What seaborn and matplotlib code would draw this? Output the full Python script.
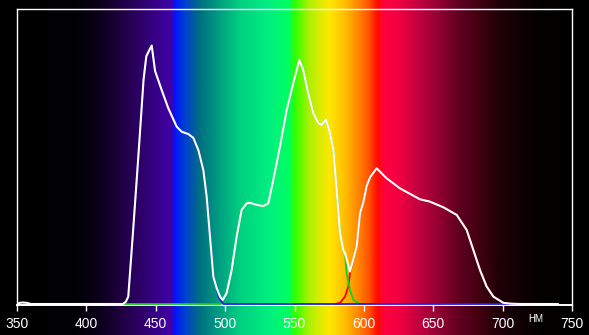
import numpy as np
import pandas as pd
import matplotlib
matplotlib.use("Agg")
import matplotlib.pyplot as plt
import seaborn as sns
from matplotlib.colors import LinearSegmentedColormap

# ---------------- data ----------------
white_wl = [350, 352, 354, 357, 360, 400, 426.4, 428.5, 430.2, 434.0, 437.6, 441.2, 443.2,
            445.5, 447.1, 449.5, 454.3, 459.0, 465.1, 468.7, 473.5, 477.1, 480.7, 484.3,
            486.7, 489.1, 491.5, 493.9, 496.3, 498.3, 501.1, 504.7, 508.3, 511.9, 515.5,
            517.9, 522.8, 527.5, 531.1, 534.7, 539.5, 544.4, 549.1, 553.5, 556.3, 559.9,
            563.6, 567.2, 569.6, 572.7, 575.6, 578.0, 580.4, 582.8, 585.2, 586.4, 590.0,
            594.8, 597.2, 599.6, 602.0, 604.5, 609.2, 616.4, 626.0, 640.4, 647.6, 657.2,
            666.9, 674.1, 678.9, 683.7, 688.5, 693.3, 700.5, 706.0, 712.5, 740]
white_val = [0, 0.004, 0.005, 0.004, 0, 0, 0, 0.008, 0.025, 0.27, 0.51, 0.76, 0.84,
             0.862, 0.876, 0.79, 0.725, 0.664, 0.601, 0.584, 0.576, 0.563, 0.522, 0.454,
             0.364, 0.228, 0.093, 0.054, 0.025, 0.014, 0.037, 0.115, 0.228, 0.319, 0.341,
             0.343, 0.336, 0.332, 0.341, 0.420, 0.533, 0.658, 0.748, 0.827, 0.793, 0.714,
             0.646, 0.613, 0.607, 0.626, 0.579, 0.522, 0.386, 0.240, 0.183, 0.172, 0.110,
             0.194, 0.307, 0.345, 0.400, 0.430, 0.460, 0.426, 0.392, 0.355, 0.347, 0.328,
             0.302, 0.251, 0.183, 0.115, 0.059, 0.025, 0.004, 0.001, 0, 0]

blue_wl = [426.4, 428.5, 430.2, 434.0, 437.6, 441.2, 443.2, 445.5, 447.1, 449.5, 454.3,
           459.0, 465.1, 468.7, 473.5, 477.1, 480.7, 484.3, 486.7, 489.1, 491.5, 493.9,
           495.1, 498.7, 714]
blue_val = [0, 0.008, 0.025, 0.27, 0.51, 0.76, 0.84, 0.862, 0.876, 0.79, 0.725,
            0.664, 0.601, 0.584, 0.576, 0.563, 0.522, 0.454, 0.364, 0.228, 0.093, 0.054,
            0.025, 0, 0]

green_wl = [426.4, 497.0, 498.3, 501.1, 504.7, 508.3, 511.9, 515.5, 517.9, 522.8, 527.5,
            531.1, 534.7, 539.5, 544.4, 549.1, 553.5, 556.3, 559.9, 563.6, 567.2, 569.6,
            572.7, 575.6, 578.0, 580.4, 582.8, 585.2, 586.4, 587.6, 590.0, 592.4, 597.2]
green_val = [0, 0, 0.014, 0.037, 0.115, 0.228, 0.319, 0.341, 0.343, 0.336, 0.332,
             0.341, 0.420, 0.533, 0.658, 0.748, 0.827, 0.793, 0.714, 0.646, 0.613, 0.607,
             0.626, 0.579, 0.522, 0.386, 0.240, 0.183, 0.172, 0.104, 0.047, 0.014, 0]

red_wl = [579.5, 583.0, 586.4, 588.8, 590.0, 594.8, 597.2, 599.6, 602.0, 604.5, 609.2,
          616.4, 626.0, 640.4, 647.6, 657.2, 666.9, 674.1, 678.9, 683.7, 688.5, 693.3,
          700.5, 706.0, 712.5]
red_val = [0, 0.005, 0.025, 0.059, 0.104, 0.194, 0.307, 0.345, 0.400, 0.430, 0.460,
           0.426, 0.392, 0.355, 0.347, 0.328, 0.302, 0.251, 0.183, 0.115, 0.059, 0.025,
           0.004, 0.001, 0]

x_ticks = [350, 400, 450, 500, 550, 600, 650, 700, 750]
unit_label = "НМ"

# ---------------- styling ----------------
sns.set_style("dark")
plt.rcParams["font.family"] = ["Liberation Sans", "DejaVu Sans"]

spectrum_stops = [
    (350, "#000000"), (392, "#020004"), (410, "#0c001c"), (424, "#1e003e"),
    (439, "#2e0068"), (453, "#3a0090"), (461.5, "#4200a8"), (463.5, "#0014ff"),
    (471, "#0040d0"), (482, "#007080"), (496, "#00a080"), (511, "#00d080"),
    (532, "#00f080"), (546, "#00ff60"), (550.5, "#30ff00"), (561, "#b0f000"),
    (575, "#ffe800"), (586, "#ffc000"), (597, "#ff8000"), (604, "#ff5000"),
    (610, "#ff0a00"), (615, "#ff0040"), (626, "#f00040"), (640, "#c00040"),
    (655, "#900030"), (669, "#600020"), (684, "#400010"), (698, "#200008"),
    (712, "#100004"), (727, "#050000"), (750, "#000000"),
]
cmap = LinearSegmentedColormap.from_list(
    "spectrum", [((w - 350) / 400, c) for w, c in spectrum_stops], N=1024)

W, H = 589, 335
fig = plt.figure(figsize=(W / 100, H / 100), dpi=100, facecolor="black")
ax = fig.add_axes([17 / W, 30 / H, 555 / W, 296 / H])
ax.set_facecolor("black")

lo, hi = -0.0034, 1.0
span = hi - lo
grad = np.linspace(350, 750, 1200)[None, :]
ax.imshow(grad, cmap=cmap, vmin=350, vmax=750, aspect="auto", interpolation="bilinear",
          extent=(350, 750, lo - 30 / 296 * span, hi + 9 / 296 * span),
          clip_on=False, zorder=0)

df_r = pd.DataFrame({"wl": red_wl, "v": red_val})
df_g = pd.DataFrame({"wl": green_wl, "v": green_val})
df_b = pd.DataFrame({"wl": blue_wl, "v": blue_val})
df_w = pd.DataFrame({"wl": white_wl, "v": white_val})

sns.lineplot(data=df_r, x="wl", y="v", ax=ax, color="#f00000", linewidth=1.3,
             estimator=None, zorder=3)
sns.lineplot(data=df_g, x="wl", y="v", ax=ax, color="#10d010", linewidth=1.3,
             estimator=None, zorder=3)
sns.lineplot(data=df_b, x="wl", y="v", ax=ax, color="#2020e0", linewidth=1.3,
             estimator=None, zorder=3)
sns.lineplot(data=df_w, x="wl", y="v", ax=ax, color="white", linewidth=1.5,
             estimator=None, zorder=4)

ax.set_xlim(350, 750)
ax.set_ylim(lo, hi)
ax.grid(False)
ax.set_xlabel("")
ax.set_ylabel("")
ax.set_yticks([])
ax.set_xticks(x_ticks)
ax.set_xticklabels([str(t) for t in x_ticks])
ax.tick_params(axis="x", colors="white", direction="out", length=4, width=1,
               pad=5, labelsize=10, bottom=True)
for side, sp in ax.spines.items():
    sp.set_visible(True)
    sp.set_color("white")
    sp.set_linewidth(1.0)
    sp.set_zorder(2.5)
ax.spines["bottom"].set_linewidth(1.4)

ax.annotate(unit_label, xy=(724, 1 - 318.5 / H), xycoords=("data", "figure fraction"),
            color="white", fontsize=7, ha="center", va="center")

fig.savefig("out.png", dpi=100, facecolor="black")
